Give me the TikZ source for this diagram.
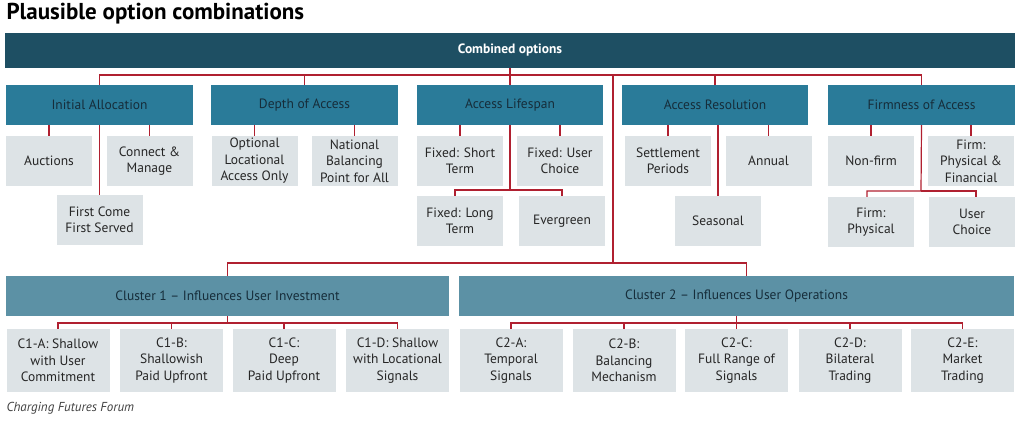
\documentclass[tikz,border=0pt]{standalone}
\usepackage{fontspec}
\setmainfont{PT Sans}
\definecolor{darkbar}{RGB}{30,79,99}
\definecolor{catbar}{RGB}{42,123,153}
\definecolor{clubar}{RGB}{92,145,165}
\definecolor{leafgray}{RGB}{221,227,230}
\definecolor{linkred}{RGB}{176,32,48}
\definecolor{catink}{RGB}{22,45,58}
\tikzset{
	box/.style={draw=none, inner sep=0pt, align=center, font=\fontsize{13.5}{16.5}\selectfont},
	topbox/.style={box, fill=darkbar, text=white, font=\fontsize{13.5}{16.5}\selectfont\bfseries},
	catbox/.style={box, fill=catbar, text=catink},
	clubox/.style={box, fill=clubar, text=catink},
	leaf/.style={box, fill=leafgray, text=black!85},
	link/.style={draw=linkred, line width=1.2pt}}

\begin{document}
\begin{tikzpicture}[x=1pt,y=1pt,yscale=-1,xscale=1]
	\useasboundingbox (0,0) rectangle (1024,423);

	% Title
	\node [anchor=west, font=\fontsize{23}{26}\selectfont\bfseries] (title) at (3,14) {Plausible option combinations};

	% Combined bar
	\node [topbox, minimum width=1010, minimum height=35] (comb) at (510,50.5) {Combined options};

	% Categories
	\node [catbox, minimum width=187, minimum height=40] (alloc) at (99.5,105) {Initial Allocation};
	\node [catbox, minimum width=187, minimum height=40] (depth) at (304.5,105) {Depth of Access};
	\node [catbox, minimum width=186, minimum height=40] (life) at (510,105) {Access Lifespan};
	\node [catbox, minimum width=186, minimum height=40] (resol) at (715,105) {Access Resolution};
	\node [catbox, minimum width=187, minimum height=40] (firm) at (921.5,105) {Firmness of Access};

	% Leaves, first row
	\tikzset{r1/.style={leaf, minimum width=86, minimum height=50}}
	\node [r1] (auct) at (49,161) {Auctions};
	\node [r1] (conn) at (149.5,161) {Connect \&\\Manage};
	\node [r1] (optl) at (254.5,161) {Optional\\Locational\\Access Only};
	\node [r1] (natl) at (354.5,161) {National\\Balancing\\Point for All};
	\node [r1] (fshort) at (460,161) {Fixed: Short\\Term};
	\node [r1] (fuser) at (560,161) {Fixed: User\\Choice};
	\node [r1] (settl) at (668,161) {Settlement\\Periods};
	\node [r1] (annual) at (768.5,161) {Annual};
	\node [r1] (nonfirm) at (871,161) {Non-firm};
	\node [r1] (firmpf) at (971,161) {Firm:\\Physical \&\\Financial};

	% Leaves, second row
	\node [r1] (fcfs) at (99.5,220) {First Come\\First Served};
	\node [r1] (flong) at (460,221) {Fixed: Long\\Term};
	\node [r1] (everg) at (562,221) {Evergreen};
	\node [r1] (seas) at (718,221) {Seasonal};
	\node [r1] (firmp) at (871,222) {Firm:\\Physical};
	\node [r1] (uchoice) at (972,222) {User\\Choice};

	% Clusters
	\node [clubox, minimum width=443, minimum height=40] (clu1) at (227.5,296) {Cluster 1 -- Influences User Investment};
	\node [clubox, minimum width=555, minimum height=40] (clu2) at (736.5,296) {Cluster 2 -- Influences User Operations};

	% Cluster leaves
	\tikzset{r3/.style={leaf, minimum width=103, minimum height=63}}
	\node [r3] (c1a) at (58,360.5) {C1-A: Shallow\\with User\\Commitment};
	\node [r3] (c1b) at (171.5,360.5) {C1-B:\\Shallowish\\Paid Upfront};
	\node [r3] (c1c) at (284,360.5) {C1-C:\\Deep\\Paid Upfront};
	\node [r3] (c1d) at (397.5,360.5) {C1-D: Shallow\\with Locational\\Signals};
	\node [r3] (c2a) at (511,360.5) {C2-A:\\Temporal\\Signals};
	\node [r3] (c2b) at (624,360.5) {C2-B:\\Balancing\\Mechanism};
	\node [r3] (c2c) at (736.5,360.5) {C2-C:\\Full Range of\\Signals};
	\node [r3] (c2d) at (850,360.5) {C2-D:\\Bilateral\\Trading};
	\node [r3] (c2e) at (962.5,360.5) {C2-E:\\Market\\Trading};

	% Footer
	\node [anchor=west, font=\fontsize{13}{15}\selectfont\itshape, text=black!75] (src) at (3,408) {Charging Futures Forum};

	% Connectors
	\coordinate (hub) at (613,75);
	\coordinate (split) at (613,263);
	\draw [link] (comb.south) -- (510,75);
	\foreach \c in {alloc,depth,life,resol,firm}
		\draw [link] (510,75) -| (\c.north);
	\draw [link] (hub) -- (split);
	\draw [link] (split) -| (clu1.north);
	\draw [link] (split) -| ([xshift=10]clu2.north);

	\draw [link] (auct.north) -- (auct.north |- alloc.south);
	\draw [link] (conn.north) -- (conn.north |- alloc.south);
	\draw [link] (alloc.south) -- (fcfs.north);
	\draw [link] (optl.north) -- (optl.north |- depth.south);
	\draw [link] (natl.north) -- (natl.north |- depth.south);
	\draw [link] (fshort.north) -- (fshort.north |- life.south);
	\draw [link] (fuser.north) -- (fuser.north |- life.south);
	\draw [link] (life.south) -- (510,190) -| ([xshift=-5]flong.north);
	\draw [link] (510,190) -| (everg.north);
	\draw [link] (settl.north) -- (settl.north |- resol.south);
	\draw [link] (annual.north) -- (annual.north |- resol.south);
	\draw [link] (seas.north) -- (seas.north |- resol.south);
	\draw [link] (nonfirm.north) -- (nonfirm.north |- firm.south);
	\draw [link] (firmpf.north) -- (firmpf.north |- firm.south);
	\draw [link] (firm.south) -- (921,191) -| ([xshift=-4]firmp.north);
	\draw [link] (921,191) -| ([xshift=4]uchoice.north);

	\draw [link] (clu1.south) -- (227.5,323);
	\foreach \c in {c1a,c1b,c1c,c1d}
		\draw [link] (227.5,323) -| (\c.north);
	\draw [link] (clu2.south) -- (736.5,323);
	\foreach \c in {c2a,c2b,c2c,c2d,c2e}
		\draw [link] (736.5,323) -| (\c.north);
\end{tikzpicture}
\end{document}
